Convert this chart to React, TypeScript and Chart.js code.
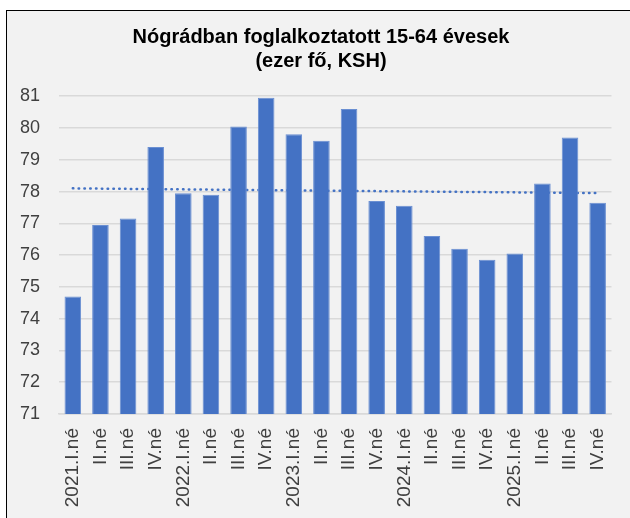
import React, { useEffect, useRef } from "react";
import { Chart, registerables } from "chart.js";

Chart.register(...registerables);

const categories = [
  "2021.I.né", "II.né", "III.né", "IV.né",
  "2022.I.né", "II.né", "III.né", "IV.né",
  "2023.I.né", "II.né", "III.né", "IV.né",
  "2024.I.né", "II.né", "III.né", "IV.né",
  "2025.I.né", "II.né", "III.né", "IV.né",
];

const employed = [
  74.7, 76.95, 77.15, 79.4,
  77.95, 77.9, 80.05, 80.95,
  79.8, 79.6, 80.6, 77.7,
  77.55, 76.6, 76.2, 75.85,
  76.05, 78.25, 79.7, 77.65,
];

const trendStart = 78.1;
const trendEnd = 77.95;

const titleLines = ["Nógrádban foglalkoztatott 15-64 évesek", "(ezer fő, KSH)"];
const yMin = 71;
const yMax = 81;

export default function App() {
  const ref = useRef<HTMLCanvasElement | null>(null);

  useEffect(() => {
    document.body.style.margin = "0";
    document.body.style.overflow = "hidden";
    const trend = categories.map((_, i) =>
      i === 0 ? trendStart : i === categories.length - 1 ? trendEnd : null
    );
    const chart = new Chart(ref.current as HTMLCanvasElement, {
      type: "bar",
      data: {
        labels: categories,
        datasets: [
          {
            type: "bar",
            data: employed,
            backgroundColor: "#4472C4",
            borderColor: "#6a8fd2",
            borderWidth: 1,
            barPercentage: 0.6,
            categoryPercentage: 1,
            order: 1,
          },
          {
            type: "line",
            data: trend as any,
            spanGaps: true,
            borderColor: "#4472C4",
            borderWidth: 2.5,
            borderDash: [0.5, 5.3],
            borderCapStyle: "round",
            pointRadius: 0,
            fill: false,
            order: 2,
          } as any,
        ],
      },
      options: {
        animation: false,
        responsive: false,
        maintainAspectRatio: false,
        layout: { padding: 0 },
        plugins: {
          legend: { display: false },
          tooltip: { enabled: false },
          title: {
            display: true,
            text: titleLines,
            color: "#000000",
            font: { family: "'Liberation Sans', Arial, sans-serif", size: 20, weight: "bold", lineHeight: 1.18 },
            padding: { top: 15, bottom: 23 },
          },
        },
        scales: {
          x: {
            grid: { display: false, drawTicks: false },
            border: { display: true, color: "#d9d9d9", width: 1.5 },
            ticks: {
              autoSkip: false,
              minRotation: 90,
              maxRotation: 90,
              padding: 14,
              color: "#404040",
              font: { family: "'Liberation Sans', Arial, sans-serif", size: 19 },
            },
            afterFit: (s: any) => { s.height = 104; },
          },
          y: {
            min: yMin,
            max: yMax,
            ticks: {
              stepSize: 1,
              padding: 19,
              color: "#404040",
              font: { family: "'Liberation Sans', Arial, sans-serif", size: 18 },
            },
            grid: { color: "#d9d9d9", lineWidth: 1.5, drawTicks: false },
            border: { display: false },
            afterFit: (s: any) => { s.width = 52; },
          },
          yRight: {
            position: "right",
            display: true,
            min: yMin,
            max: yMax,
            grid: { display: false, drawTicks: false },
            border: { display: false },
            ticks: { display: false },
            afterFit: (s: any) => { s.width = 22; },
          },
        },
      },
    });
    return () => chart.destroy();
  }, []);

  return (
    <div
      style={{
        position: "absolute",
        left: 6,
        top: 10,
        width: 624,
        height: 508,
        borderTop: "1px solid #000",
        borderLeft: "1px solid #000",
        background: "#f2f2f2",
        overflow: "hidden",
      }}
    >
      <canvas ref={ref} width={628} height={507} style={{ display: "block" }} />
    </div>
  );
}
